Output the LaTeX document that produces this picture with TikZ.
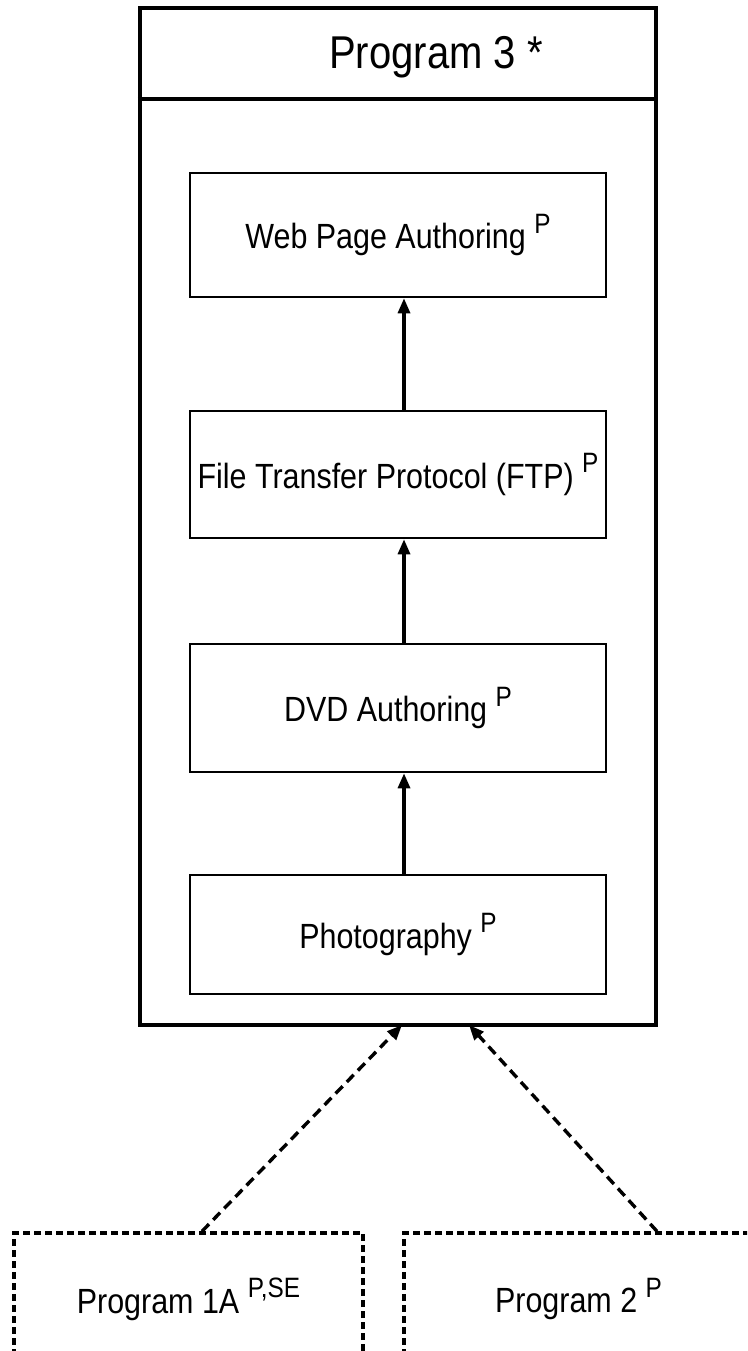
\documentclass[tikz,border=0pt]{standalone}
\usepackage{fontspec}
\setmainfont{Liberation Sans}
\usetikzlibrary{arrows.meta}

% narrow, tall lettering and raised marks
\newcommand{\nar}[1]{\scalebox{0.87}[1]{#1}}
\newcommand{\sx}[1]{\raisebox{0.45em}{\fontsize{28}{28}\selectfont #1}}

\begin{document}
\begin{tikzpicture}[x=1pt, y=-1pt,
    stage/.style={draw, line width=2.6pt, minimum width=416pt, inner sep=0pt,
      font=\fontsize{35}{40}\selectfont},
    feeder/.style={draw, line width=3.4pt, dash pattern=on 7pt off 4pt,
      minimum width=349pt, minimum height=132pt, inner sep=0pt,
      font=\fontsize{35}{40}\selectfont},
    flow/.style={line width=3.2pt, -{Triangle[width=12pt,length=15pt]}},
    feed/.style={flow, line width=3.4pt, dash pattern=on 10pt off 6pt}]
  \useasboundingbox (0,0) rectangle (747,1351);
  \clip (0,0) rectangle (747,1351);

  % outer box with its title strip
  \node[draw, line width=4.5pt, minimum width=516pt, minimum height=1017pt] (prog3) at (398,516.5) {};
  \coordinate (cut) at (0,99);
  \draw[line width=4.5pt] (prog3.west |- cut) -- (prog3.east |- cut);
  \node[font=\fontsize{46}{52}\selectfont, anchor=base] (title) at (436,69) {\nar{Program 3 *}};

  % courses
  \node[stage, minimum height=124pt] (web) at (398,235) {\nar{Web Page Authoring \sx{P}}};
  \node[stage, minimum height=127pt] (ftp) at (398,474.5) {\nar{File Transfer Protocol (FTP) \sx{P}}};
  \node[stage, minimum height=128pt] (dvd) at (398,708) {\nar{DVD Authoring \sx{P}}};
  \node[stage, minimum height=119pt] (photo) at (398,934.5) {\nar{Photography \sx{P}}};

  \draw[flow] ([xshift=6pt]photo.north) -- ([xshift=6pt]dvd.south);
  \draw[flow] ([xshift=6pt]dvd.north) -- ([xshift=6pt]ftp.south);
  \draw[flow] ([xshift=6pt]ftp.north) -- ([xshift=6pt]web.south);

  % feeding programs
  \node[feeder] (p1a) at (188.5,1299) {\nar{Program 1A \sx{P,SE}}};
  \node[feeder] (p2) at (578.5,1299) {\nar{Program 2 \sx{P}}};

  \coordinate (in1) at (402,1025);
  \coordinate (in2) at (469,1025);
  \draw[feed] ([xshift=13.5pt]p1a.north) -- (in1);
  \draw[feed] ([xshift=78.5pt]p2.north) -- (in2);
\end{tikzpicture}
\end{document}
